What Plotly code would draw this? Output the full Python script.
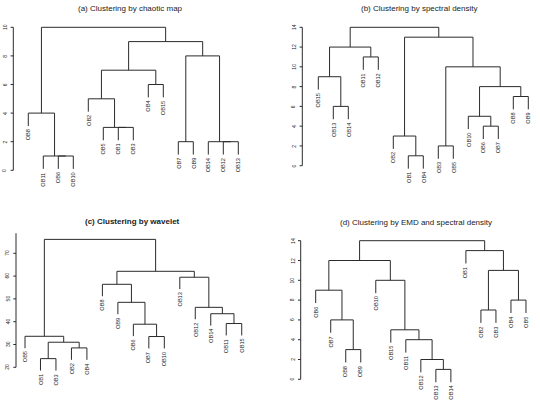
import plotly.graph_objects as go

W, H = 540, 404

# ---------------- data ----------------
a_title = "(a) Clustering by chaotic map"
a_order = ["OB8", "OB11", "OB6", "OB10", "OB2", "OB5", "OB1", "OB3", "OB4", "OB15",
           "OB7", "OB9", "OB14", "OB12", "OB13"]
# merges: (child1, child2, height); children are leaf names or earlier merge indices
a_merges = [("OB6", "OB10", 1), ("OB11", 0, 1), ("OB8", 1, 4),
            ("OB1", "OB3", 3), ("OB5", 3, 3), ("OB2", 4, 5),
            ("OB4", "OB15", 6), (5, 6, 7),
            ("OB7", "OB9", 2), ("OB12", "OB13", 2), ("OB14", 9, 2), (8, 10, 8),
            (7, 11, 9), (2, 12, 10)]
a_ticks = [0, 2, 4, 6, 8, 10]

b_title = "(b) Clustering by spectral density"
b_order = ["OB15", "OB13", "OB14", "OB11", "OB12", "OB2", "OB1", "OB4", "OB3", "OB5",
           "OB10", "OB6", "OB7", "OB8", "OB9"]
b_merges = [("OB13", "OB14", 6), ("OB15", 0, 9), ("OB11", "OB12", 11), (1, 2, 12),
            ("OB1", "OB4", 1), ("OB2", 4, 3), ("OB3", "OB5", 2),
            ("OB6", "OB7", 4), ("OB10", 7, 5), ("OB8", "OB9", 7), (8, 9, 8),
            (6, 10, 10), (5, 11, 13), (3, 12, 14)]
b_ticks = [0, 2, 4, 6, 8, 10, 12, 14]

c_title = "(c) Clustering by wavelet"
c_order = ["OB5", "OB1", "OB3", "OB2", "OB4", "OB8", "OB9", "OB6", "OB7", "OB10",
           "OB13", "OB12", "OB14", "OB11", "OB15"]
c_merges = [("OB1", "OB3", 23.8), ("OB2", "OB4", 28.5), (0, 1, 31.0), ("OB5", 2, 33.6),
            ("OB7", "OB10", 33.5), ("OB6", 4, 38.9), ("OB9", 5, 48.5), ("OB8", 6, 56.4),
            ("OB11", "OB15", 39.2), ("OB14", 8, 43.5), ("OB12", 9, 46.3), ("OB13", 10, 59.5),
            (7, 11, 62.1), (3, 12, 76.1)]
c_ticks = [20, 30, 40, 50, 60, 70]

d_title = "(d) Clustering by EMD and spectral density"
d_order = ["OB6", "OB7", "OB8", "OB9", "OB10", "OB15", "OB11", "OB12", "OB13", "OB14",
           "OB1", "OB2", "OB3", "OB4", "OB5"]
d_merges = [("OB8", "OB9", 3), ("OB7", 0, 6), ("OB6", 1, 9),
            ("OB13", "OB14", 1), ("OB12", 3, 2), ("OB11", 4, 4), ("OB15", 5, 5), ("OB10", 6, 10),
            (2, 7, 12), ("OB2", "OB3", 7), ("OB4", "OB5", 8), (9, 10, 11), ("OB1", 11, 13),
            (8, 12, 14)]
d_ticks = [0, 2, 4, 6, 8, 10, 12, 14]

# ---------------- layout (pixel anchors) ----------------
panels = [
    dict(title=a_title, order=a_order, merges=a_merges, ticks=a_ticks, axis_top=10, bold=False,
         box=(0, 270, 0, 202), axis_px=13.3, leaf0=28.3, step=15.0, yref_val=0, yref_px=170.3, ppu=14.3,
         title_xy=(130.5, 8.5)),
    dict(title=b_title, order=b_order, merges=b_merges, ticks=b_ticks, axis_top=14, bold=False,
         box=(270, 540, 0, 202), axis_px=302.3, leaf0=318.3, step=15.0, yref_val=0, yref_px=165.7, ppu=9.886,
         title_xy=(419.7, 8.5)),
    dict(title=c_title, order=c_order, merges=c_merges, ticks=c_ticks, axis_top=78.8, bold=True,
         box=(0, 270, 202, 404), axis_px=16.0, leaf0=25.0, step=15.48, yref_val=20, yref_px=367.3, ppu=2.28,
         title_xy=(132.5, 221.7)),
    dict(title=d_title, order=d_order, merges=d_merges, ticks=d_ticks, axis_top=14, bold=False,
         box=(270, 540, 202, 404), axis_px=300.7, leaf0=315.7, step=15.02, yref_val=0, yref_px=379.3, ppu=9.9,
         title_xy=(416.2, 222.7)),
]

LINE = "#2b2b2b"
TXT = "#222222"
FONT = "Liberation Sans, Arial, sans-serif"

fig = go.Figure()
annotations = []

for k, p in enumerate(panels):
    n = k + 1
    xa = "x" if n == 1 else f"x{n}"
    ya = "y" if n == 1 else f"y{n}"
    xl, xr, yt, yb = p["box"]
    # axis ranges so data map onto the reference pixel positions
    x0 = (xl - p["leaf0"]) / p["step"]
    x1 = (xr - p["leaf0"]) / p["step"]
    y0 = p["yref_val"] + (p["yref_px"] - yb) / p["ppu"]
    y1 = p["yref_val"] + (p["yref_px"] - yt) / p["ppu"]
    fig.update_layout(**{
        ("xaxis" if n == 1 else f"xaxis{n}"): dict(domain=[xl / W, xr / W], range=[x0, x1], visible=False,
                                                  anchor=ya, fixedrange=True),
        ("yaxis" if n == 1 else f"yaxis{n}"): dict(domain=[1 - yb / H, 1 - yt / H], range=[y0, y1], visible=False,
                                                  anchor=xa, fixedrange=True),
    })

    order = p["order"]
    merges = p["merges"]
    heights = [m[2] for m in merges]
    hang = 0.1 * (max(heights) - min(heights))
    pos = {name: i for i, name in enumerate(order)}
    mx, mh = [], []
    xs, ys = [], []
    leaf_end = {}

    def node(c, h):
        if isinstance(c, str):
            leaf_end[c] = h - hang
            return pos[c], h - hang
        return mx[c], mh[c]

    for c1, c2, h in merges:
        xa1, ha1 = node(c1, h)
        xa2, ha2 = node(c2, h)
        xs += [xa1, xa1, xa2, xa2, None]
        ys += [ha1, h, h, ha2, None]
        mx.append((xa1 + xa2) / 2)
        mh.append(h)

    fig.add_trace(go.Scatter(x=xs, y=ys, mode="lines", line=dict(color=LINE, width=1),
                             xaxis=xa, yaxis=ya, hoverinfo="skip", showlegend=False))

    # y axis (R style: line from first tick to top, outward ticks)
    ax = (p["axis_px"] - p["leaf0"]) / p["step"]
    tl = 2.7 / p["step"]
    axs = [ax, ax, None]
    ays = [p["ticks"][0], p["axis_top"], None]
    for t in p["ticks"]:
        axs += [ax, ax - tl, None]
        ays += [t, t, None]
        annotations.append(dict(x=ax, y=t, xref=xa, yref=ya, text=str(t), showarrow=False,
                                textangle=-90, xanchor="right", yanchor="middle", xshift=-3.5,
                                font=dict(family=FONT, size=5, color=TXT)))
    fig.add_trace(go.Scatter(x=axs, y=ays, mode="lines", line=dict(color=LINE, width=1),
                             xaxis=xa, yaxis=ya, hoverinfo="skip", showlegend=False))

    # leaf labels
    for name in order:
        annotations.append(dict(x=pos[name], y=leaf_end[name], xref=xa, yref=ya, text=name, showarrow=False,
                                textangle=-90, xanchor="center", yanchor="top", yshift=-1.5,
                                font=dict(family=FONT, size=5.6, color=TXT)))

    # title
    tx, ty = p["title_xy"]
    ttext = f"<b>{p['title']}</b>" if p["bold"] else p["title"]
    annotations.append(dict(x=tx / W, y=1 - ty / H, xref="paper", yref="paper", text=ttext, showarrow=False,
                            xanchor="center", yanchor="middle",
                            font=dict(family=FONT, size=8, color=TXT)))

fig.update_layout(width=W, height=H, margin=dict(l=0, r=0, t=0, b=0),
                  paper_bgcolor="white", plot_bgcolor="white", annotations=annotations)

fig.write_html("out.html")
